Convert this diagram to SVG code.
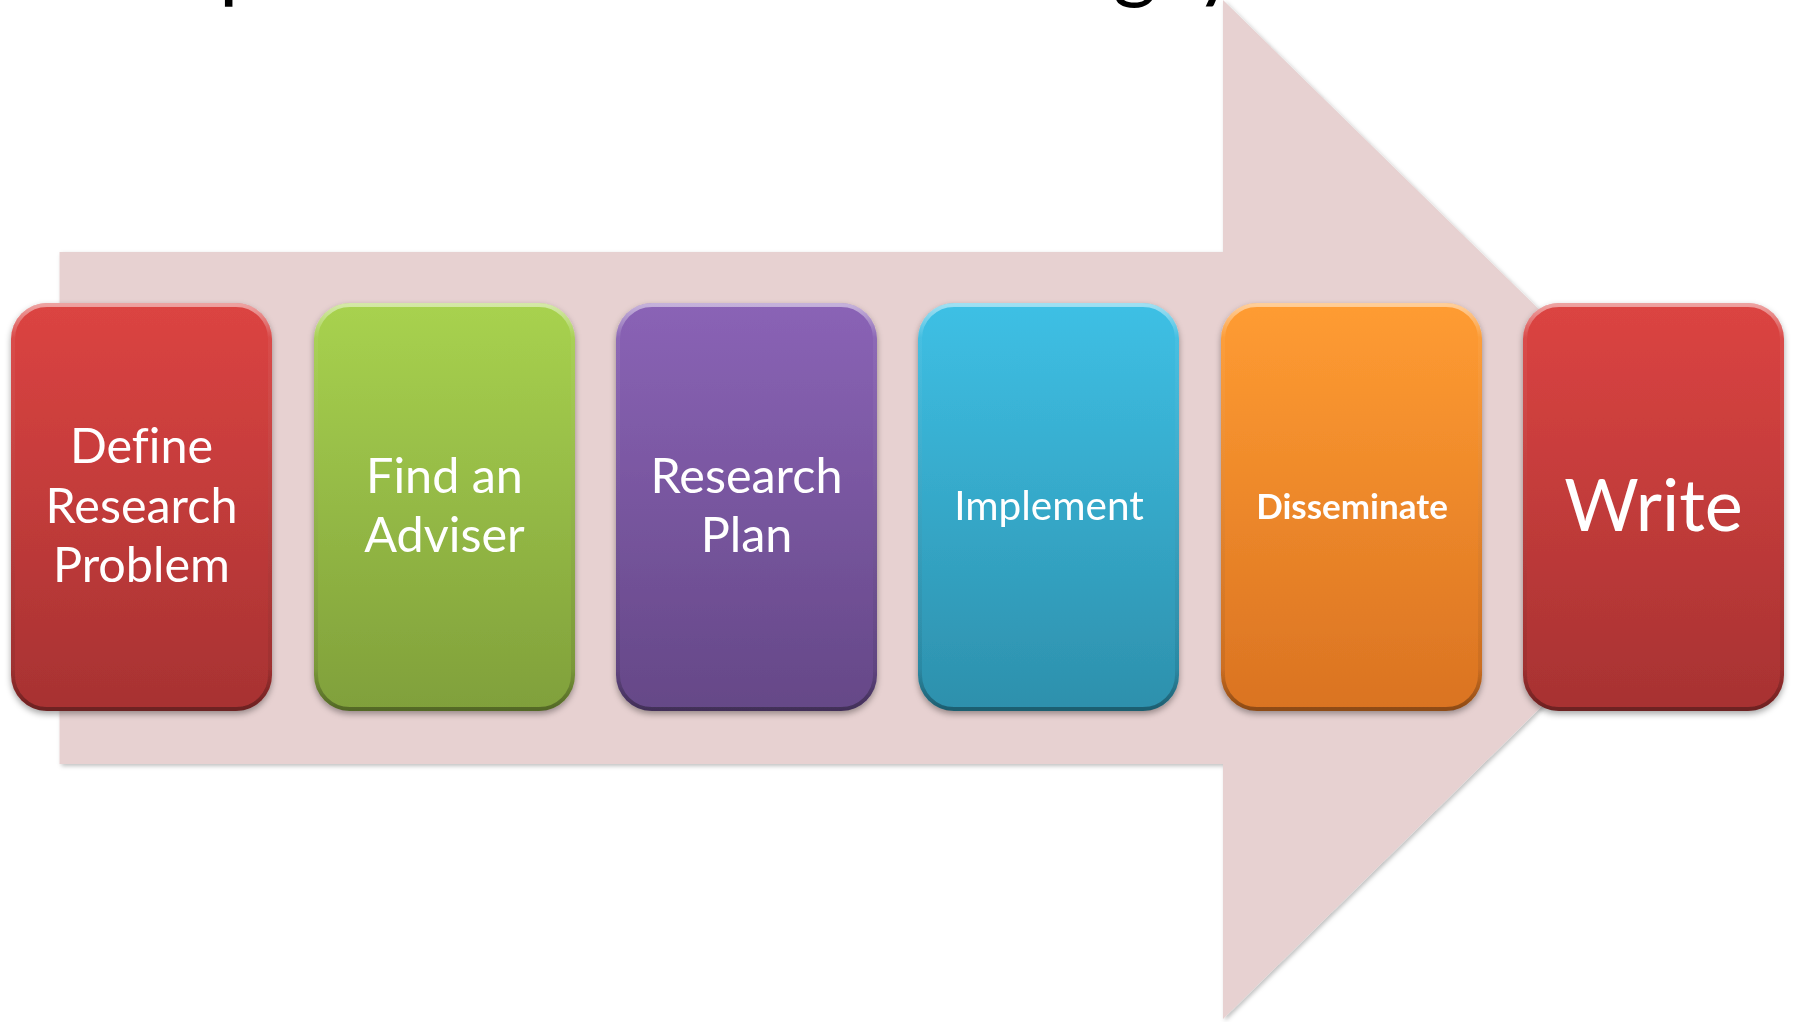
<svg xmlns="http://www.w3.org/2000/svg" width="1793" height="1022" viewBox="0 0 1793 1022">
<defs>
<linearGradient id="gRed" x1="0" y1="0" x2="0" y2="1"><stop offset="0" stop-color="#DC4442"/><stop offset="1" stop-color="#A73232"/></linearGradient>
<linearGradient id="gGreen" x1="0" y1="0" x2="0" y2="1"><stop offset="0" stop-color="#A8D24F"/><stop offset="1" stop-color="#80A03B"/></linearGradient>
<linearGradient id="gPurple" x1="0" y1="0" x2="0" y2="1"><stop offset="0" stop-color="#8A63B6"/><stop offset="1" stop-color="#654887"/></linearGradient>
<linearGradient id="gBlue" x1="0" y1="0" x2="0" y2="1"><stop offset="0" stop-color="#3EC0E5"/><stop offset="1" stop-color="#2D90AC"/></linearGradient>
<linearGradient id="gOrange" x1="0" y1="0" x2="0" y2="1"><stop offset="0" stop-color="#FF9C32"/><stop offset="1" stop-color="#DA7322"/></linearGradient>
<linearGradient id="gRim" x1="0" y1="0" x2="0" y2="1"><stop offset="0" stop-color="#FFFFFF" stop-opacity="0.5"/><stop offset="0.08" stop-color="#FFFFFF" stop-opacity="0.05"/><stop offset="0.9" stop-color="#000000" stop-opacity="0.08"/><stop offset="1" stop-color="#000000" stop-opacity="0.35"/></linearGradient>
<filter id="sh" x="-10%" y="-10%" width="120%" height="120%"><feDropShadow dx="0" dy="3" stdDeviation="3" flood-color="#000" flood-opacity="0.35"/></filter>
<filter id="ash" x="-5%" y="-5%" width="110%" height="110%"><feDropShadow dx="2" dy="2" stdDeviation="2" flood-color="#000" flood-opacity="0.25"/></filter>
</defs>
<style>
.lbl{font-family:Lato,"Open Sans","Liberation Sans",sans-serif;fill:#FFFFFF;text-anchor:middle;font-variant-ligatures:none}
.ttl{font-family:Lato,"Open Sans","Liberation Sans",sans-serif;fill:#000000;font-size:84px}
.rim{fill:none;stroke:url(#gRim);stroke-width:4}
</style>
<rect width="1793" height="1022" fill="#FFFFFF"/>
<g id="title">
<text class="ttl" x="219" y="-8">p</text>
<text class="ttl" x="1113" y="-8">g</text>
<text class="ttl" x="1195" y="-8">y</text>
</g>
<g id="arrow">
<path d="M59.5,252 L1223,252 L1223,0 L1743,509 L1223,1019 L1223,764 L59.5,764 Z" fill="#E7D1D1" filter="url(#ash)"/>
</g>
<g id="connectors"></g>
<g id="n1" filter="url(#sh)">
<rect x="11" y="303" width="261" height="408" rx="36" fill="url(#gRed)"/>
<rect class="rim" x="13" y="305" width="257" height="404" rx="34"/>
<text class="lbl" x="141.5" y="463" font-size="48.5">Define</text>
<text class="lbl" x="141.5" y="523" font-size="48.5">Research</text>
<text class="lbl" x="141.5" y="582" font-size="48.5">Problem</text>
</g>
<g id="n2" filter="url(#sh)">
<rect x="314" y="303" width="261" height="408" rx="36" fill="url(#gGreen)"/>
<rect class="rim" x="316" y="305" width="257" height="404" rx="34"/>
<text class="lbl" x="444.5" y="493" font-size="48.5">Find an</text>
<text class="lbl" x="444.5" y="552" font-size="48.5">Adviser</text>
</g>
<g id="n3" filter="url(#sh)">
<rect x="616" y="303" width="261" height="408" rx="36" fill="url(#gPurple)"/>
<rect class="rim" x="618" y="305" width="257" height="404" rx="34"/>
<text class="lbl" x="746.5" y="493" font-size="48.5">Research</text>
<text class="lbl" x="746.5" y="552" font-size="48.5">Plan</text>
</g>
<g id="n4" filter="url(#sh)">
<rect x="918" y="303" width="261" height="408" rx="36" fill="url(#gBlue)"/>
<rect class="rim" x="920" y="305" width="257" height="404" rx="34"/>
<text class="lbl" x="1049" y="520" font-size="40.5">Implement</text>
</g>
<g id="n5" filter="url(#sh)">
<rect x="1221" y="303" width="261" height="408" rx="36" fill="url(#gOrange)"/>
<rect class="rim" x="1223" y="305" width="257" height="404" rx="34"/>
<text class="lbl" x="1352" y="519" font-size="35" font-weight="bold">Disseminate</text>
</g>
<g id="n6" filter="url(#sh)">
<rect x="1523" y="303" width="261" height="408" rx="36" fill="url(#gRed)"/>
<rect class="rim" x="1525" y="305" width="257" height="404" rx="34"/>
<text class="lbl" x="1653.5" y="531" font-size="72">Write</text>
</g>
</svg>
